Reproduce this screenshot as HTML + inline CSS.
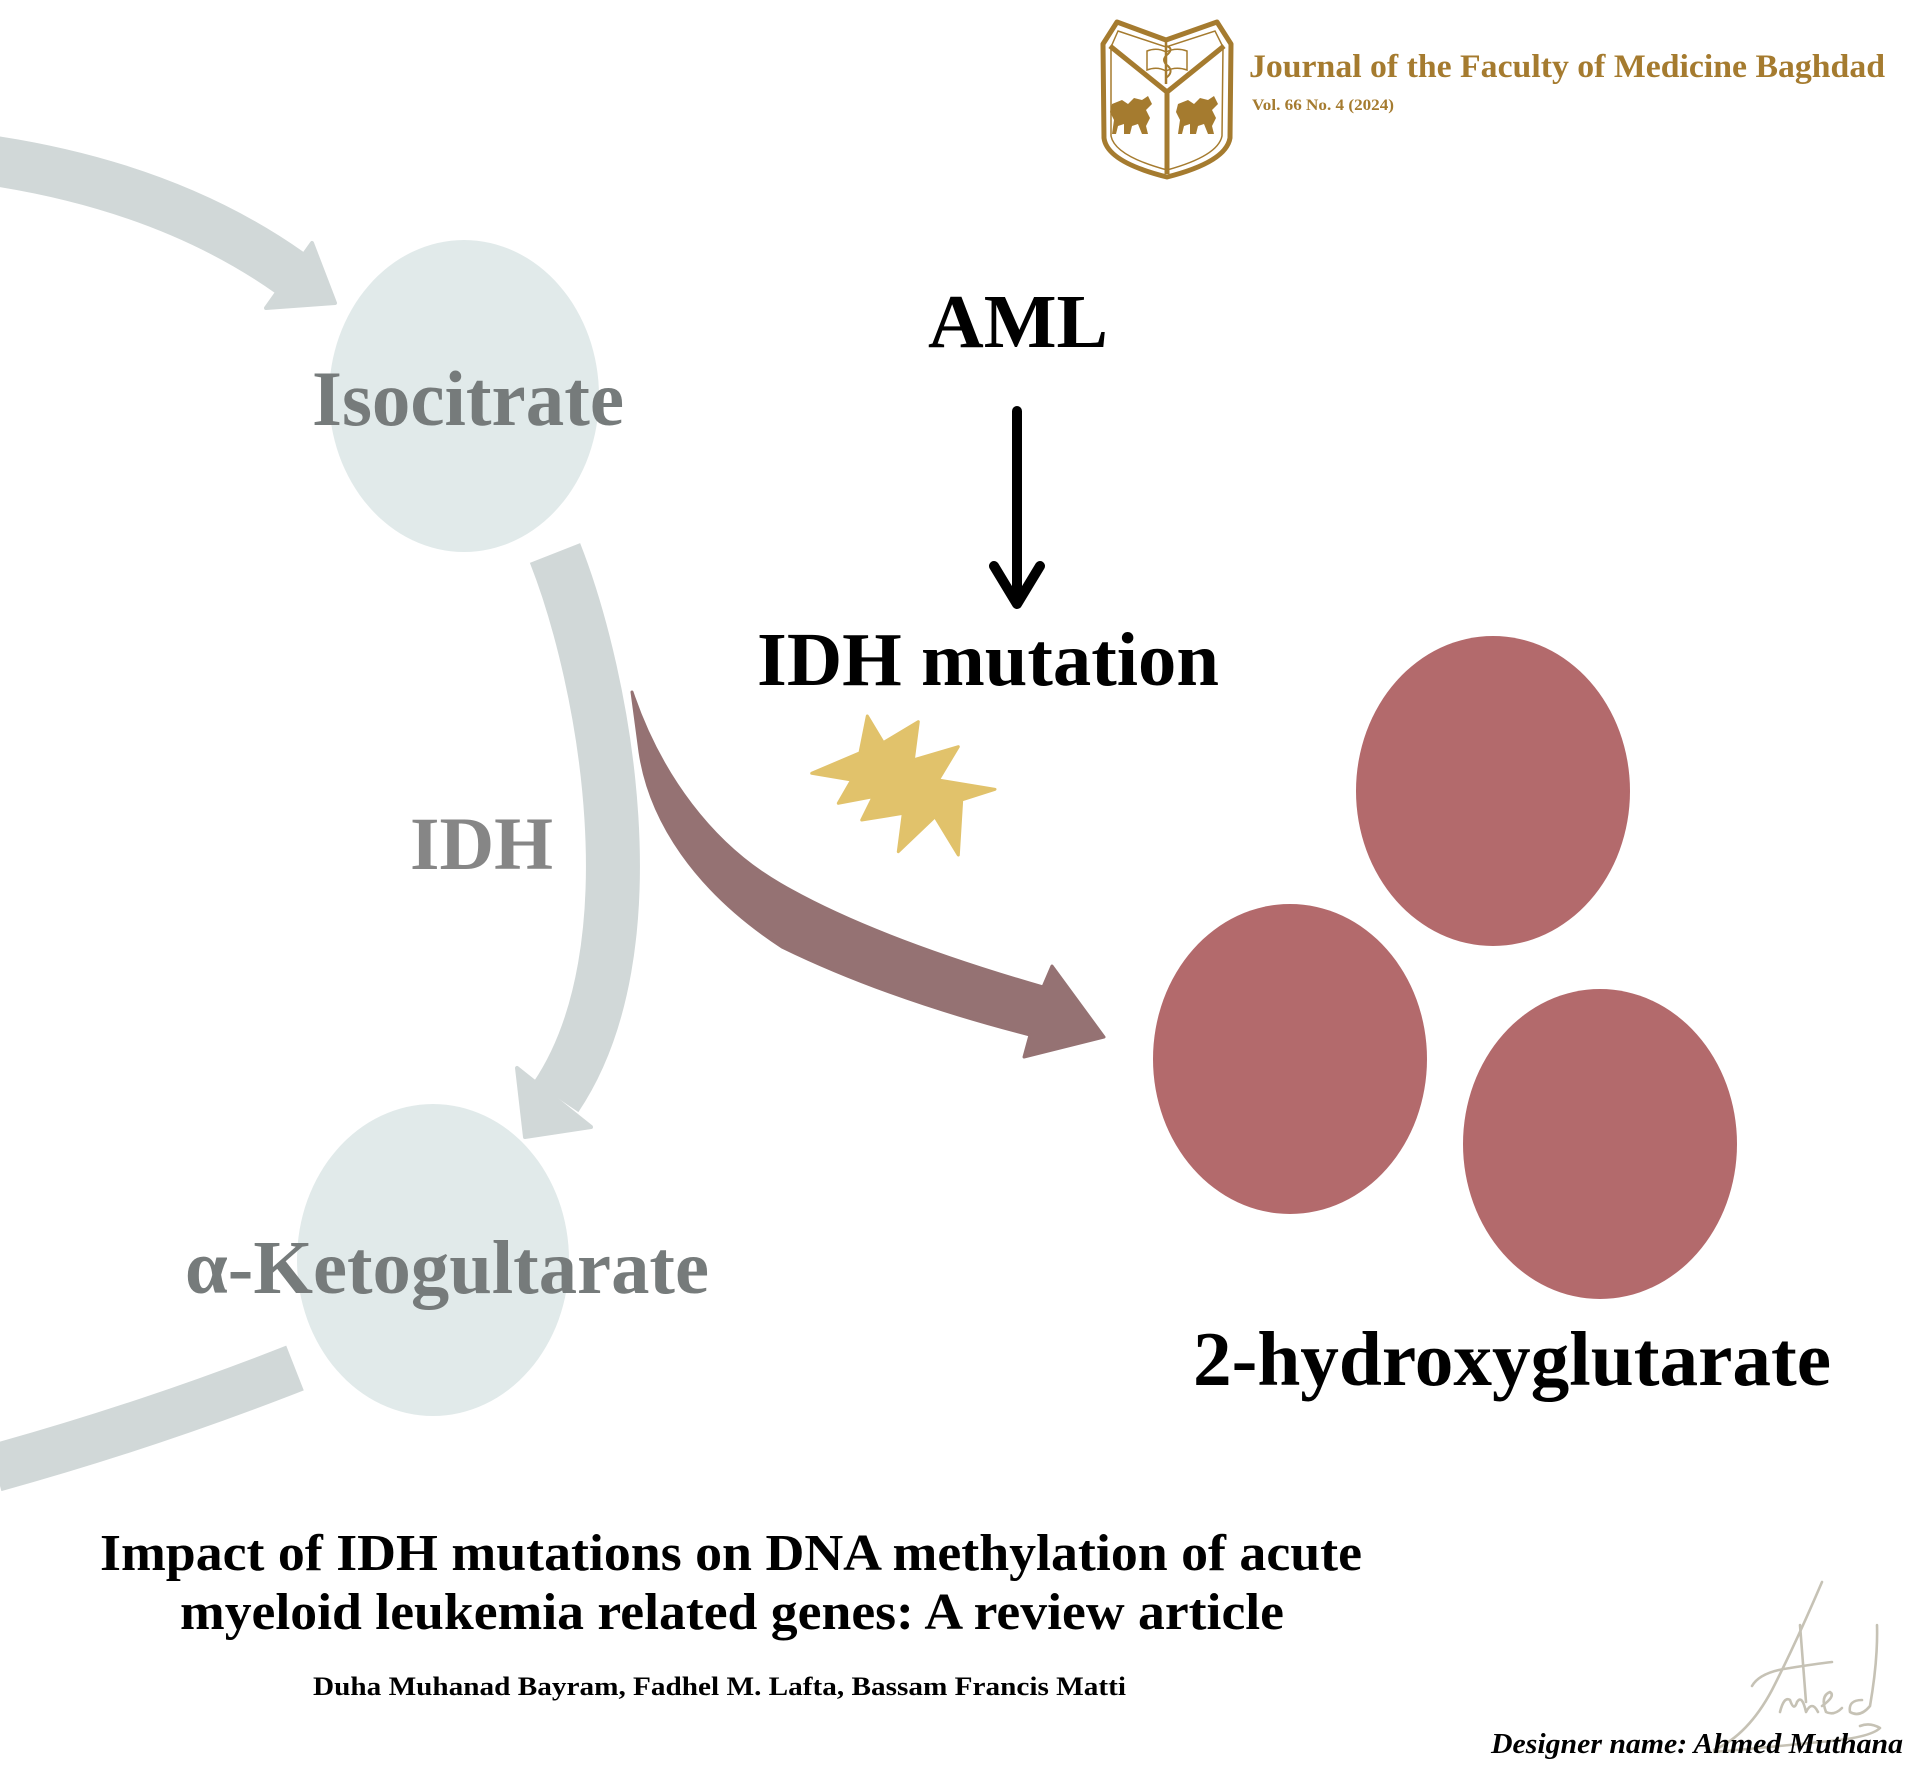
<!DOCTYPE html>
<html>
<head>
<meta charset="utf-8">
<style>
  html,body{margin:0;padding:0;background:#ffffff;}
  body{width:1923px;height:1773px;overflow:hidden;}
  svg{display:block;}
  text{font-family:"Liberation Serif","Times New Roman",serif;font-weight:bold;}
</style>
</head>
<body>
<svg width="1923" height="1773" viewBox="0 0 1923 1773" xmlns="http://www.w3.org/2000/svg">
  <rect x="0" y="0" width="1923" height="1773" fill="#ffffff"/>

  <!-- ===== Gray cycle arrows ===== -->
  <path d="M -5,161 Q 170,188 290,273" fill="none" stroke="#d1d8d8" stroke-width="50"/>
  <polygon points="312,243 335,303 266,308" fill="#d1d8d8" stroke="#d1d8d8" stroke-width="4" stroke-linejoin="round"/>

  <path d="M 555,553 C 605,680 655,950 556,1097" fill="none" stroke="#d1d8d8" stroke-width="54"/>
  <polygon points="517,1068 525,1137 591,1127" fill="#d1d8d8" stroke="#d1d8d8" stroke-width="4" stroke-linejoin="round"/>

  <path d="M 295,1368 Q 150,1425 -5,1468" fill="none" stroke="#d1d8d8" stroke-width="48"/>

  <!-- ===== Nodes ===== -->
  <ellipse cx="464" cy="396" rx="135" ry="156" fill="#e1eaea"/>
  <ellipse cx="433" cy="1260" rx="136" ry="156" fill="#e1eaea"/>

  <!-- ===== Maroon mutant arrow ===== -->
  <path d="M 632,692
           C 660,775 712,845 780,884
           C 850,925 950,960 1043,987
           L 1052,966 L 1104,1037 L 1024,1057 L 1030,1035
           C 960,1017 870,990 782,947
           C 695,890 650,820 640,752 Z"
        fill="#957273" stroke="#957273" stroke-width="3" stroke-linejoin="round"/>

  <!-- ===== Star ===== -->
  <polygon points="811.7,773.3 860,752.7 867.3,716 883.3,742.7 918.3,721.7 913.3,760 958.3,746.7 938.3,780 995,789.3 961.7,800 958.3,855 935,816.7 898.3,851.7 903.3,813.3 861.7,820 873.3,796.7 838.3,803.3 851.7,780"
           fill="#e1c26b" stroke="#e1c26b" stroke-width="3" stroke-linejoin="round"/>

  <!-- ===== AML arrow ===== -->
  <line x1="1017" y1="411" x2="1017" y2="600" stroke="#000" stroke-width="10" stroke-linecap="round"/>
  <polyline points="994,566 1017,604 1040,566" fill="none" stroke="#000" stroke-width="10" stroke-linecap="round" stroke-linejoin="round"/>

  <!-- ===== 2-HG circles ===== -->
  <ellipse cx="1493" cy="791" rx="137" ry="155" fill="#b36a6c"/>
  <ellipse cx="1290" cy="1059" rx="137" ry="155" fill="#b36a6c"/>
  <ellipse cx="1600" cy="1144" rx="137" ry="155" fill="#b36a6c"/>

  <!-- ===== Labels ===== -->
  <text x="312" y="425" font-size="78" fill="#767b7b" textLength="312" lengthAdjust="spacingAndGlyphs">Isocitrate</text>
  <text x="410" y="869" font-size="75" fill="#868686" textLength="143" lengthAdjust="spacingAndGlyphs">IDH</text>
  <text x="185" y="1293" font-size="76" fill="#767b7b" textLength="524" lengthAdjust="spacingAndGlyphs">α-Ketogultarate</text>
  <text x="928" y="347" font-size="76" fill="#000" textLength="180" lengthAdjust="spacingAndGlyphs">AML</text>
  <text x="757" y="685" font-size="76" fill="#000" textLength="462" lengthAdjust="spacingAndGlyphs">IDH mutation</text>
  <text x="1193" y="1385" font-size="77" fill="#000" textLength="638" lengthAdjust="spacingAndGlyphs">2-hydroxyglutarate</text>

  <!-- ===== Title & authors ===== -->
  <text x="100" y="1570" font-size="52" fill="#000" textLength="1262" lengthAdjust="spacingAndGlyphs">Impact of IDH mutations on DNA methylation of acute</text>
  <text x="180" y="1629" font-size="52" fill="#000" textLength="1104" lengthAdjust="spacingAndGlyphs">myeloid leukemia related genes: A review article</text>
  <text x="313" y="1695" font-size="26" fill="#000" textLength="813" lengthAdjust="spacingAndGlyphs">Duha Muhanad Bayram, Fadhel M. Lafta, Bassam Francis Matti</text>

  <!-- ===== Signature ===== -->
  <g fill="none" stroke="#c6c2b5" stroke-width="2.6" stroke-linecap="round" stroke-linejoin="round">
    <path d="M1822,1582 Q1795,1645 1772,1690 Q1748,1735 1714,1750"/>
    <path d="M1800,1625 Q1803,1665 1806,1702"/>
    <path d="M1752,1686 Q1760,1672 1790,1668 Q1815,1664 1832,1662"/>
    <path d="M1780,1712 Q1784,1696 1790,1700 Q1794,1712 1797,1702 Q1802,1694 1806,1712 Q1812,1700 1818,1712"/>
    <path d="M1822,1706 Q1836,1696 1830,1692 Q1820,1696 1826,1712 Q1834,1716 1842,1708"/>
    <path d="M1862,1700 Q1848,1700 1850,1712 Q1860,1718 1870,1706 Q1878,1660 1877,1625"/>
    <path d="M1714,1752 Q1760,1748 1820,1742 Q1870,1738 1880,1728 Q1870,1722 1860,1726"/>
  </g>
  <text x="1491" y="1753" font-size="28" font-style="italic" fill="#000" textLength="412" lengthAdjust="spacingAndGlyphs">Designer name: Ahmed Muthana</text>

  <!-- ===== Journal logo ===== -->
  <g>
    <path d="M1117,22 L1166,40 L1217,22 L1231,44 L1230,138 Q1226,162 1167,177 Q1107,162 1104,138 L1103,44 Z"
          fill="#ffffff" stroke="#a57b2f" stroke-width="5" stroke-linejoin="round"/>
    <path d="M1118,31 L1166,47 L1215,31 L1223,47 L1222,136 Q1218,156 1167,170 Q1115,156 1111,136 L1111,47 Z"
          fill="none" stroke="#a57b2f" stroke-width="1.5"/>
    <path d="M1110,46 L1167,92 L1224,46" fill="none" stroke="#a57b2f" stroke-width="5" stroke-linejoin="round"/>
    <line x1="1167" y1="90" x2="1167" y2="174" stroke="#a57b2f" stroke-width="5"/>
    <path d="M1147,51 Q1157,47 1166,52 Q1176,47 1187,51 L1187,70 Q1176,66 1166,71 Q1157,66 1147,70 Z" fill="none" stroke="#a57b2f" stroke-width="1.5"/>
    <line x1="1166" y1="41" x2="1166" y2="84" stroke="#a57b2f" stroke-width="2.5"/>
    <path d="M1166,46 Q1174,48 1168,54 Q1160,60 1168,66 Q1174,72 1166,78" fill="none" stroke="#a57b2f" stroke-width="2"/>
    <g fill="#a57b2f">
      <path d="M1112,104 L1122,100 L1128,104 L1134,98 L1142,100 L1148,96 L1152,104 L1146,110 L1150,118 L1146,126 L1148,134 L1142,134 L1138,124 L1132,126 L1130,134 L1124,134 L1124,124 L1118,126 L1116,134 L1112,134 L1114,120 L1110,112 Z"/>
      <path d="M1178,104 L1188,100 L1194,104 L1200,98 L1208,100 L1214,96 L1218,104 L1212,110 L1216,118 L1212,126 L1214,134 L1208,134 L1204,124 L1198,126 L1196,134 L1190,134 L1190,124 L1184,126 L1182,134 L1178,134 L1180,120 L1176,112 Z"/>
    </g>
  </g>
  <text x="1249" y="77" font-size="33" fill="#a57b2f" textLength="636" lengthAdjust="spacingAndGlyphs">Journal of the Faculty of Medicine Baghdad</text>
  <text x="1252" y="110" font-size="16" fill="#a57b2f" textLength="142" lengthAdjust="spacingAndGlyphs">Vol. 66 No. 4 (2024)</text>
</svg>
</body>
</html>
